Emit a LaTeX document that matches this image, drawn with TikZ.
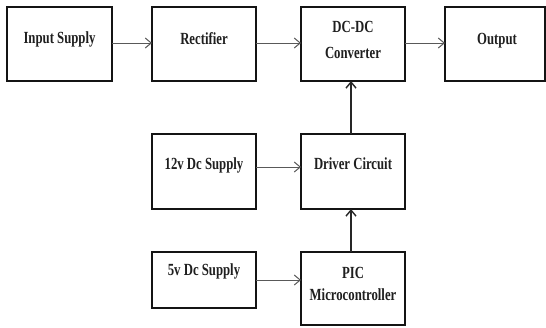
\documentclass[tikz,border=0pt]{standalone}
\usepackage{fontspec}
\setmainfont{Liberation Serif}[FakeStretch=0.75]
\usetikzlibrary{arrows.meta}
\begin{document}
\begin{tikzpicture}[x=1bp,y=-1bp,
  blk/.style={draw=black!92,line width=2bp,minimum width=#1,inner sep=0pt,outer sep=0pt},
  txt/.style={anchor=base,inner sep=0pt,text=black!88,font=\fontsize{17bp}{20bp}\selectfont\bfseries},
  harr/.style={draw=black!65,line width=1bp,-{Straight Barb[length=6bp,width=10bp]}},
  varr/.style={draw=black!85,line width=1.4bp,-{Straight Barb[length=6bp,width=10bp]}}]
\useasboundingbox[fill=white] (0,0) rectangle (546,327);
% boxes
\node[blk=105bp,minimum height=74bp] (in)   at (59.5,44) {};
\node[blk=104bp,minimum height=74bp] (rect) at (204,44) {};
\node[blk=104bp,minimum height=74bp] (dc)   at (353,44) {};
\node[blk=100bp,minimum height=74bp] (out)  at (495,44) {};
\node[blk=104bp,minimum height=75bp] (v12)  at (204,171.5) {};
\node[blk=104bp,minimum height=75bp] (drv)  at (353,171.5) {};
\node[blk=104bp,minimum height=56bp] (v5)   at (204,280) {};
\node[blk=104bp,minimum height=73bp] (pic)  at (353,288.5) {};
% texts
\node[txt] (tin)  at (59.5,43) {Input Supply};
\node[txt] (trec) at (204,44) {Rectifier};
\node[txt] (tdc1) at (353,32) {DC-DC};
\node[txt] (tdc2) at (353,58) {Converter};
\node[txt] (tout) at (497,44) {Output};
\node[txt] (t12)  at (204,169) {12v Dc Supply};
\node[txt] (tdrv) at (353,169) {Driver Circuit};
\node[txt] (t5)   at (204,275) {5v Dc Supply};
\node[txt] (tpc1) at (353,278) {PIC};
\node[txt] (tpc2) at (353,300) {Microcontroller};
% connectors
\draw[harr] ([yshift=1bp]in.east) -- ([yshift=1bp]rect.west);
\draw[harr] ([yshift=1bp]rect.east) -- ([yshift=1bp]dc.west);
\draw[harr] ([yshift=1bp]dc.east) -- ([yshift=1bp]out.west);
\draw[harr] ([yshift=4.5bp]v12.east) -- ([yshift=4.5bp]drv.west);
\draw[harr] (v5.east) -- (v5.east -| pic.west);
\draw[varr] ([xshift=-2bp]drv.north) -- ([xshift=-2bp]dc.south);
\draw[varr] ([xshift=-2bp]pic.north) -- ([xshift=-2bp]drv.south);
\end{tikzpicture}
\end{document}
